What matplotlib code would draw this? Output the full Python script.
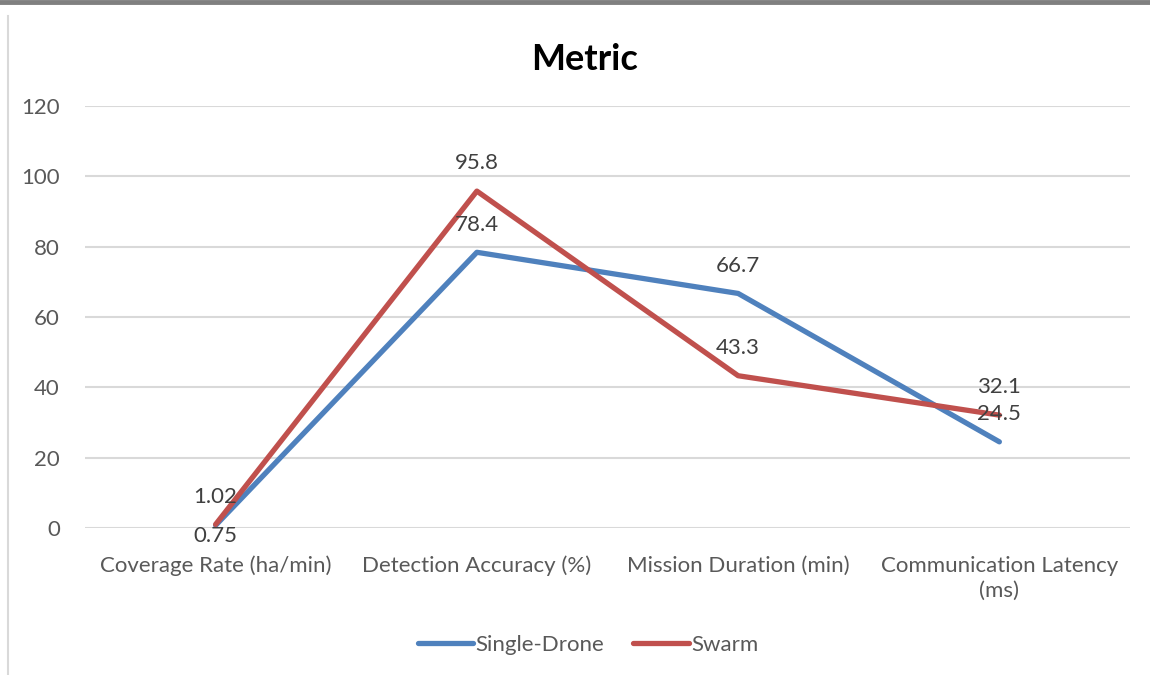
import numpy as np
import matplotlib
matplotlib.use('Agg')
import matplotlib.pyplot as plt
from matplotlib.lines import Line2D

plt.rcParams['font.family'] = ['Lato', 'DejaVu Sans']

# data
categories = ['Coverage Rate (ha/min)', 'Detection Accuracy (%)',
              'Mission Duration (min)', 'Communication Latency\n(ms)']
single_drone = [0.75, 78.4, 66.7, 24.5]
swarm = [1.02, 95.8, 43.3, 32.1]
yticks = [0, 20, 40, 60, 80, 100, 120]

col_single = '#4F81BD'
col_swarm = '#C0504D'
col_text = '#595959'
col_grid = '#D9D9D9'

F1 = plt.figure(figsize=(11.5, 6.75), dpi=100)
ax1 = F1.add_axes([85/1150., 1-528/675., 1045/1150., 422/675.])

x = np.arange(len(categories))
ax1.plot(x, single_drone, '-', color=col_single, linewidth=3.8,
         solid_capstyle='round', label='Single-Drone', zorder=3)
ax1.plot(x, swarm, '-', color=col_swarm, linewidth=3.8,
         solid_capstyle='round', label='Swarm', zorder=4)

ax1.set_xlim(-0.5, len(categories) - 0.5)
ax1.set_ylim(0, 120)
ax1.set_yticks(yticks)
ax1.set_xticks(x)
ax1.set_xticklabels(categories, fontsize=16, color=col_text, linespacing=1.3)
ax1.tick_params(axis='y', labelsize=16, labelcolor=col_text, length=0, pad=18)
ax1.tick_params(axis='x', length=0, pad=20)
ax1.grid(axis='y', color=col_grid, linewidth=1.5)
ax1.set_axisbelow(True)
for s in ax1.spines.values():
    s.set_visible(False)

# data labels (0.75 sits below its point, the rest above)
for i, v in enumerate(single_drone):
    dy = -8 if i == 0 else 20
    ax1.annotate('%g' % v, (x[i], v), xytext=(0, dy), textcoords='offset points',
                 ha='center', va='center', fontsize=16, color='#404040', zorder=5)
for i, v in enumerate(swarm):
    ax1.annotate('%g' % v, (x[i], v), xytext=(0, 20), textcoords='offset points',
                 ha='center', va='center', fontsize=16, color='#404040', zorder=5)

F1.text(585/1150., 1-60/675., 'Metric', ha='center', va='center',
        fontsize=26, fontweight='bold', color='black')

handles = [Line2D([], [], color=col_single, linewidth=3.8, solid_capstyle='round'),
           Line2D([], [], color=col_swarm, linewidth=3.8, solid_capstyle='round')]
F1.legend(handles, ['Single-Drone', 'Swarm'], loc='center',
          bbox_to_anchor=(588/1150., 1-645/675.), ncol=2, frameon=False,
          fontsize=16, labelcolor=col_text, handlelength=2.5,
          handletextpad=0.1, columnspacing=1.3)

# outer frame bits
F1.add_artist(Line2D([0, 1], [1-2/675., 1-2/675.], transform=F1.transFigure,
                     color='#808080', linewidth=3.5))
F1.add_artist(Line2D([8/1150., 8/1150.], [0, 1-16/675.], transform=F1.transFigure,
                     color=col_grid, linewidth=1.5))

plt.savefig('out.png', dpi=100)
